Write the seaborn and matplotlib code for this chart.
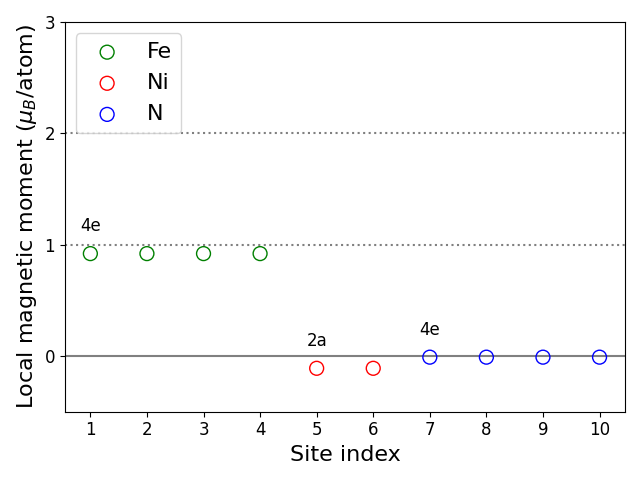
import matplotlib
matplotlib.use("Agg")
import matplotlib.pyplot as plt
import seaborn as sns
import pandas as pd

sites = [1, 2, 3, 4, 5, 6, 7, 8, 9, 10]
elements = ["Fe", "Fe", "Fe", "Fe", "Ni", "Ni", "N", "N", "N", "N"]
moments = [0.92, 0.92, 0.92, 0.92, -0.11, -0.11, -0.01, -0.01, -0.01, -0.01]
element_order = ["Fe", "Ni", "N"]
element_colors = ["green", "red", "blue"]
wyckoff_labels = ["4e", "2a", "4e"]
wyckoff_sites = [1, 5, 7]
wyckoff_values = [0.92, -0.11, -0.01]

df = pd.DataFrame({"site": sites, "element": elements, "moment": moments})

plt.rcParams['font.family'] = ['DejaVu Sans']
fig, ax = plt.subplots(figsize=(6.4, 4.8), dpi=100)

for el, col in zip(element_order, element_colors):
    sub = df[df["element"] == el]
    sns.scatterplot(data=sub, x="site", y="moment", ax=ax, marker="o", s=100,
                    facecolors="none", edgecolor=col, linewidth=1.0, label=el)

ax.axhline(0, color="gray", linewidth=1.5, zorder=0)
ax.axhline(1, color="gray", linestyle=":", linewidth=1.5, zorder=0)
ax.axhline(2, color="gray", linestyle=":", linewidth=1.5, zorder=0)

for lab, xs, v in zip(wyckoff_labels, wyckoff_sites, wyckoff_values):
    ax.text(xs, v + 0.2, lab, ha="center", va="baseline", fontsize=12, color="black")

ax.set_ylim(-0.5, 3)
ax.set_xlim(0.55, 10.45)
ax.set_xticks(sites)
ax.set_yticks([0, 1, 2, 3])
ax.tick_params(axis="both", labelsize=12, colors="black")
ax.set_xlabel("Site index", fontsize=16, color="black")
ax.set_ylabel(r"Local magnetic moment ($\mu_B$/atom)", fontsize=16, color="black")
ax.legend(loc="upper left", fontsize=16)

fig.tight_layout()
fig.savefig("out.png", dpi=100)
